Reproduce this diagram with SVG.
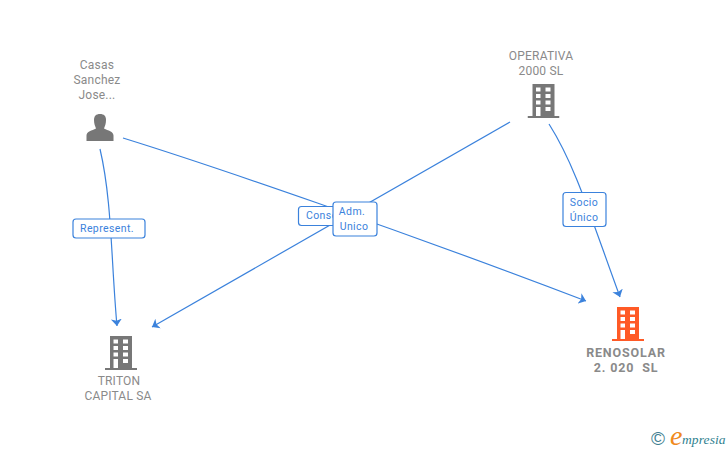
<svg xmlns="http://www.w3.org/2000/svg" width="728" height="450" viewBox="0 0 728 450">
<style>
.n{font-family:Roboto,"Liberation Sans",sans-serif;font-size:12px;fill:#8a8a8a;text-anchor:middle;letter-spacing:.2px}
.b{font-weight:700;font-size:12.5px;letter-spacing:.85px}
.l{font-family:Roboto,"Liberation Sans",sans-serif;font-size:10.5px;fill:#3b82dc;text-anchor:middle;letter-spacing:.4px}
.c{fill:none;stroke:#3b82dc;stroke-width:1.2}
.bx{fill:#fff;stroke:#3b82dc;stroke-width:1.2}
</style>
<defs>
<marker id="a" markerUnits="userSpaceOnUse" markerWidth="12" markerHeight="12" refX="7" refY="6" orient="auto" viewBox="0 0 12 12"><path d="M0 .5L7 6L0 11.500L1.800 6Z" fill="#3b82dc"/></marker>
<symbol id="bld" width="32" height="34" viewBox="0 0 32 34"><path fill-rule="evenodd" d="M5 0H27V32H32V34H0V32H5ZM8.500 3.500V7.500H13V3.500ZM18 3.500V7.500H23V3.500ZM8.500 10V14H13V10ZM18 10V14H23V10ZM8.500 16.500V20.500H13V16.500ZM18 16.500V20.500H23V16.500ZM8.500 23V32H13V23ZM18 23V27H23V23Z"/></symbol>
</defs>
<g id="connectors">
<path class="c" marker-end="url(#a)" d="M123 138C210 165 400 230 586 301"/>
<path class="c" marker-end="url(#a)" d="M510 122L152 327"/>
<path class="c" marker-end="url(#a)" d="M100 149C112 200 111 260 117 326"/>
<path class="c" marker-end="url(#a)" d="M549 124C575 165 590 215 620 297"/>
</g>
<g id="label-represent"><rect class="bx" x="73" y="219" width="72" height="19" rx="3"/><text class="l" x="107" y="232">Represent.</text></g>
<g id="label-consejero"><rect class="bx" x="298.500" y="206.500" width="40" height="19" rx="3"/><text class="l" x="306" y="219" style="text-anchor:start">Conse</text></g>
<g id="label-adm"><rect class="bx" x="333" y="202" width="44" height="34" rx="3"/><text class="l" x="352" y="215">Adm.</text><text class="l" x="354" y="230">Unico</text></g>
<g id="label-socio"><rect class="bx" x="563" y="192.500" width="43" height="34" rx="3"/><text class="l" x="584" y="206">Socio</text><text class="l" x="584" y="221">Único</text></g>
<g id="node-casas">
<text class="n" x="97" y="69">Casas</text><text class="n" x="97" y="84">Sanchez</text><text class="n" x="97" y="99">Jose...</text>
<path fill="#777" d="M86.500 141V135.500C86.500 131.500 92 130.500 96 128.500C95 126 94 123.500 94 120C94 116 96 114 100 114C104 114 106 116 106 120C106 123.500 105 126 104 128.500C108 130.500 113.500 131.500 113.500 135.500V141Z"/>
</g>
<g id="node-operativa">
<text class="n" x="541" y="60">OPERATIVA</text><text class="n" x="541" y="75">2000 SL</text>
<use href="#bld" x="527.500" y="84" fill="#777"/>
</g>
<g id="node-triton">
<text class="n" x="119" y="385">TRITON</text><text class="n" x="118" y="400">CAPITAL SA</text>
<use href="#bld" x="105" y="336" fill="#777"/>
</g>
<g id="node-renosolar">
<text class="n b" x="626" y="357">RENOSOLAR</text><text class="n b" x="626" y="372" xml:space="preserve">2. 020  SL</text>
<use href="#bld" x="612" y="307" fill="#ff5a26"/>
</g>
<g id="logo">
<text x="658" y="445" font-family="'Liberation Sans',sans-serif" font-size="19" fill="#3f7f92" text-anchor="middle">©</text>
<text x="670" y="445" font-family="'Liberation Serif',serif" font-style="italic" font-size="28" fill="#f08a1d">e</text>
<text x="682" y="444" font-family="'Liberation Serif',serif" font-style="italic" font-size="13.500" fill="#2f7f8f" letter-spacing=".1">mpresia</text>
</g>
</svg>
